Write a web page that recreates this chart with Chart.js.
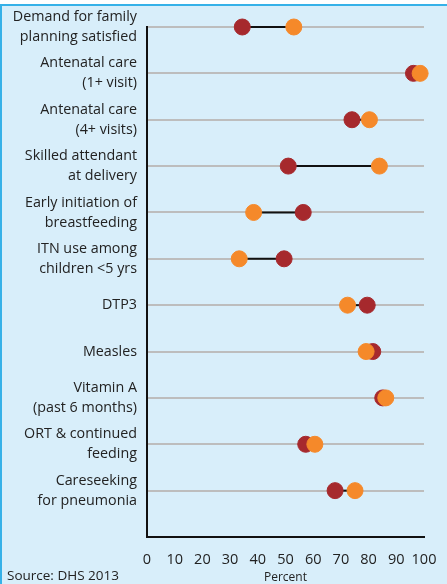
<!DOCTYPE html>
<html>
<head>
<meta charset="utf-8">
<script src="https://cdn.jsdelivr.net/npm/chart.js@4.4.1/dist/chart.umd.min.js"></script>
<style>
  html, body { margin: 0; padding: 0; background: #ffffff; }
  #wrap { position: relative; width: 447px; height: 584px; background: #d8eefa; overflow: hidden; }
  #topline { position: absolute; left: 0; top: 0; width: 447px; height: 4px; background: #ffffff; border-bottom: 2px solid #36b1e8; }
  #leftline { position: absolute; left: 0; top: 4px; width: 2px; height: 580px; background: #36b1e8; }
  #chart { position: absolute; left: 0; top: 0; }
  #source { position: absolute; left: 7px; top: 566px; font: 13.5px "Open Sans", sans-serif; color: #222; }
</style>
</head>
<body>
<div id="wrap">
  <div id="topline"></div>
  <div id="leftline"></div>
  <canvas id="chart" width="447" height="584"></canvas>
  <div id="source">Source: DHS 2013</div>
</div>
<script>
// Indicateurs (de haut en bas)
const categories = [
    ["Demand for family", "planning satisfied"],
    ["Antenatal care", "(1+ visit)"],
    ["Antenatal care", "(4+ visits)"],
    ["Skilled attendant", "at delivery"],
    ["Early initiation of", "breastfeeding"],
    ["ITN use among", "children <5 yrs"],
    ["DTP3"],
    ["Measles"],
    ["Vitamin A", "(past 6 months)"],
    ["ORT & continued", "feeding"],
    ["Careseeking", "for pneumonia"],
];
// Points rouge foncé et orange
const redValues = [34.4, 96.2, 74.0, 51.0, 56.4, 49.5, 79.5, 81.5, 85.1, 57.3, 67.9];
const orangeValues = [53.0, 98.6, 80.3, 83.9, 38.5, 33.3, 72.4, 79.1, 86.2, 60.6, 75.1];
const xTicks = [0, 10, 20, 30, 40, 50, 60, 70, 80, 90, 100];

const RED = "#a6292d";
const ORANGE = "#f5892a";

// Segments noirs entre les deux points
const connectors = categories.map((c, i) => ({
    type: "line",
    data: [
        { x: redValues[i], y: i },
        { x: orangeValues[i], y: i },
    ],
    borderColor: "#111111",
    borderWidth: 2,
    pointRadius: 0,
    clip: false,
    order: 3,
}));

const ctx = document.getElementById("chart").getContext("2d");
new Chart(ctx, {
    type: "scatter",
    data: {
        datasets: [
            {
                data: orangeValues.map((v, i) => ({ x: v, y: i })),
                backgroundColor: ORANGE,
                borderColor: ORANGE,
                pointRadius: 8,
                pointHoverRadius: 8,
                clip: false,
                order: 1,
            },
            {
                data: redValues.map((v, i) => ({ x: v, y: i })),
                backgroundColor: RED,
                borderColor: RED,
                pointRadius: 8,
                pointHoverRadius: 8,
                clip: false,
                order: 2,
            },
            ...connectors,
        ],
    },
    options: {
        responsive: false,
        animation: false,
        events: [],
        layout: { padding: { top: 27, left: 0, right: 23, bottom: 0 } },
        plugins: {
            legend: { display: false },
            tooltip: { enabled: false },
        },
        scales: {
            x: {
                type: "linear",
                min: 0,
                max: 100,
                afterBuildTicks: (scale) => {
                    scale.ticks = xTicks.map((v) => ({ value: v }));
                },
                afterFit: (scale) => {
                    scale.height = 47;
                    scale.paddingLeft = 0;
                    scale.paddingRight = 0;
                },
                ticks: {
                    color: "#222222",
                    font: { family: "Open Sans", size: 14.5 },
                    padding: 14,
                    maxRotation: 0,
                    autoSkip: false,
                },
                grid: { display: false, drawTicks: false },
                border: { display: true, color: "#111111", width: 2 },
                title: {
                    display: true,
                    text: "Percent",
                    color: "#222222",
                    font: { family: "Open Sans", size: 12, lineHeight: 1 },
                    padding: { top: 0, bottom: 0 },
                },
            },
            y: {
                type: "linear",
                min: 0,
                max: 11,
                reverse: true,
                afterBuildTicks: (scale) => {
                    scale.ticks = categories.map((c, i) => ({ value: i })).concat([{ value: 11 }]);
                },
                afterFit: (scale) => {
                    scale.width = 147;
                    scale.paddingTop = 0;
                    scale.paddingBottom = 0;
                },
                ticks: {
                    color: "#222222",
                    font: { family: "Open Sans", size: 14.3, lineHeight: 1.4 },
                    padding: 10,
                    autoSkip: false,
                    callback: (v) => categories[v] || "",
                },
                grid: {
                    drawTicks: false,
                    color: (c) => (c.tick && c.tick.value === 11 ? "rgba(0,0,0,0)" : "#bdbdbd"),
                    lineWidth: 2,
                },
                border: { display: true, color: "#111111", width: 2 },
            },
        },
    },
});
</script>
</body>
</html>
